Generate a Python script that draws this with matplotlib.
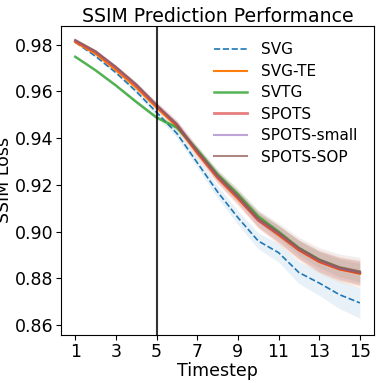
import numpy as np
import matplotlib.pyplot as plt

timesteps = np.arange(1, 16)

svg = [0.9810, 0.9750, 0.9680, 0.9600, 0.9510, 0.9420, 0.9295, 0.9170, 0.9060, 0.8960,
       0.8910, 0.8825, 0.8780, 0.8730, 0.8695]
svg_te = [0.9810, 0.9760, 0.9690, 0.9615, 0.9530, 0.9450, 0.9335, 0.9230, 0.9140, 0.9050,
          0.8985, 0.8920, 0.8870, 0.8838, 0.8820]
svtg = [0.9748, 0.9690, 0.9625, 0.9555, 0.9488, 0.9445, 0.9350, 0.9245, 0.9160, 0.9065,
        0.9000, 0.8930, 0.8880, 0.8845, 0.8825]
spots = [0.9815, 0.9768, 0.9700, 0.9625, 0.9538, 0.9455, 0.9340, 0.9232, 0.9145, 0.9048,
         0.8988, 0.8922, 0.8872, 0.8840, 0.8822]
spots_small = [0.9818, 0.9770, 0.9703, 0.9628, 0.9540, 0.9458, 0.9343, 0.9236, 0.9148, 0.9052,
               0.8992, 0.8926, 0.8876, 0.8843, 0.8826]
spots_sop = [0.9820, 0.9772, 0.9705, 0.9630, 0.9542, 0.9460, 0.9346, 0.9240, 0.9152, 0.9056,
             0.8996, 0.8930, 0.8880, 0.8848, 0.8830]

# rough spread (half-width of the shaded band)
svg_sd = [0.0003, 0.0005, 0.0008, 0.0011, 0.0014, 0.0018, 0.0022, 0.0026, 0.0030, 0.0034,
          0.0040, 0.0047, 0.0053, 0.0060, 0.0065]
svg_te_sd = [0.0003, 0.0005, 0.0008, 0.0011, 0.0014, 0.0018, 0.0022, 0.0026, 0.0030, 0.0035,
             0.0040, 0.0045, 0.0050, 0.0055, 0.0058]
svtg_sd = [0.0003, 0.0004, 0.0006, 0.0008, 0.0010, 0.0013, 0.0016, 0.0019, 0.0022, 0.0025,
           0.0028, 0.0031, 0.0034, 0.0037, 0.0040]
spots_sd = [0.0003, 0.0005, 0.0008, 0.0011, 0.0014, 0.0017, 0.0021, 0.0025, 0.0029, 0.0033,
            0.0037, 0.0041, 0.0045, 0.0049, 0.0052]
spots_small_sd = [0.0003, 0.0005, 0.0007, 0.0010, 0.0013, 0.0016, 0.0019, 0.0023, 0.0027, 0.0031,
                  0.0035, 0.0039, 0.0043, 0.0046, 0.0049]
spots_sop_sd = [0.0003, 0.0005, 0.0008, 0.0011, 0.0014, 0.0018, 0.0022, 0.0026, 0.0031, 0.0036,
                0.0041, 0.0046, 0.0051, 0.0056, 0.0060]

series = [
    ("SVG", svg, svg_sd, "tab:blue", "--", 1.0, 1.2),
    ("SVG-TE", svg_te, svg_te_sd, "tab:orange", "-", 1.0, 1.5),
    ("SVTG", svtg, svtg_sd, "tab:green", "-", 0.8, 1.8),
    ("SPOTS", spots, spots_sd, "tab:red", "-", 0.6, 2.0),
    ("SPOTS-small", spots_small, spots_small_sd, "tab:purple", "-", 0.6, 1.5),
    ("SPOTS-SOP", spots_sop, spots_sop_sd, "tab:brown", "-", 0.7, 1.5),
]

plt.rcParams['font.size'] = 12.5
fig, ax = plt.subplots(figsize=(3.79, 3.83), dpi=100)

for name, m, sd, c, ls, a, w in series:
    m = np.array(m)
    sd = np.array(sd)
    ax.plot(timesteps, m, ls, color=c, alpha=a, lw=w, label=name)
    ax.fill_between(timesteps, m - sd, m + sd, color=c, alpha=0.1, lw=0)

ax.axvline(5, color='black', alpha=0.8, lw=1.5)
ax.set_xticks(np.arange(1, 16, 2))
ax.set_yticks([0.86, 0.88, 0.90, 0.92, 0.94, 0.96, 0.98])
ax.set_ylim(0.8557, 0.9881)
ax.tick_params(pad=2)
ax.set_xlabel("Timestep", labelpad=1)
ax.set_ylabel("SSIM Loss", labelpad=1.5)
ax.set_title("SSIM Prediction Performance", fontsize=13.6, pad=1)
ax.legend(frameon=False, loc='upper right', fontsize=11, handlelength=2.2,
          handletextpad=0.9, labelspacing=0.42, borderaxespad=0.7)

fig.subplots_adjust(left=0.161, right=0.987, top=0.933, bottom=0.125)
fig.savefig("out.png")
